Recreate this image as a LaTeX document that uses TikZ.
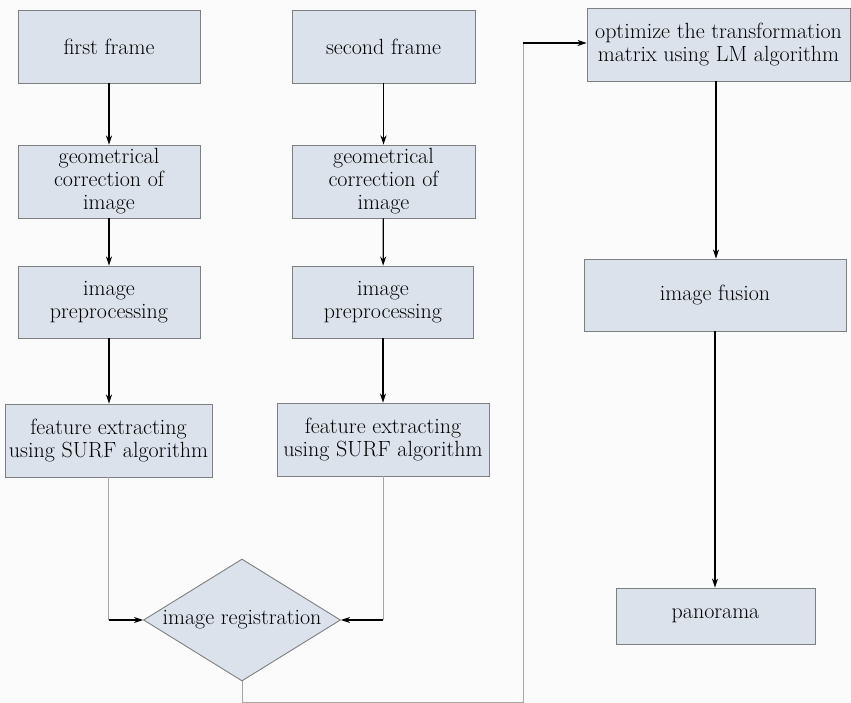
\documentclass[tikz,border=0pt]{standalone}
\usepackage{tikz}
\usetikzlibrary{calc, shapes.geometric, positioning, arrows.meta}
\definecolor{boxfill}{HTML}{DCE2EC}
\definecolor{boxline}{HTML}{7F7F7F}
\definecolor{thinline}{HTML}{A8A4A6}
\tikzset{
    stepbox/.style={draw=boxline, fill=boxfill, line width=0.9pt, align=center,
        inner sep=0pt, font=\fontsize{22}{23}\selectfont},
    decide/.style={diamond, draw=boxline, fill=boxfill, line width=0.9pt,
        shape aspect=1.6, inner sep=0pt, minimum width=197pt, minimum height=122pt,
        font=\fontsize{22}{23}\selectfont},
    flow/.style={->, line width=1.3pt, black},
    thin line/.style={draw=thinline, line width=1pt}
}
\begin{document}
\begin{tikzpicture}[>={Stealth[length=9pt, width=6pt]}, x=1pt, y=-1pt]
    % Nền
    \fill[gray!3] (0,0) rectangle (851,703);
    \useasboundingbox (0,0) rectangle (851,703);
    % Cột thứ nhất
    \node[stepbox, minimum width=182pt, minimum height=73pt] (frame1) at (109,46.5) {first frame};
    \node[stepbox, minimum width=182pt, minimum height=73pt] (geo1) at (109,181.5) {geometrical\\correction of\\image};
    \node[stepbox, minimum width=182pt, minimum height=72pt] (pre1) at (109,302) {image\\preprocessing};
    \node[stepbox, minimum width=207pt, minimum height=73pt] (feat1) at (108.5,440.5) {feature extracting\\using SURF algorithm};
    % Cột thứ hai
    \node[stepbox, minimum width=183pt, minimum height=73pt] (frame2) at (383.5,46.5) {second frame};
    \node[stepbox, minimum width=183pt, minimum height=73pt] (geo2) at (383.5,181.5) {geometrical\\correction of\\image};
    \node[stepbox, minimum width=181pt, minimum height=72pt] (pre2) at (383,302) {image\\preprocessing};
    \node[stepbox, minimum width=212pt, minimum height=73pt] (feat2) at (383,439.5) {feature extracting\\using SURF algorithm};
    % Đăng ký ảnh
    \node[decide] (reg) at (242,620) {image registration};
    % Cột thứ ba
    \node[stepbox, minimum width=263pt, minimum height=73pt] (opt) at (718.5,44.5) {optimize the transformation\\matrix using LM algorithm};
    \node[stepbox, minimum width=262pt, minimum height=72pt] (fusion) at (715,295) {image fusion};
    \node[stepbox, minimum width=199pt, minimum height=56pt] (pano) at (715.5,616) {panorama};

    % Mũi tên
    \draw[flow] (frame1) -- (geo1);
    \draw[flow] (geo1) -- (pre1);
    \draw[flow] (pre1) -- (feat1.north -| pre1);
    \draw[flow] (frame2) -- (geo2);
    \draw[flow] (geo2) -- (pre2);
    \draw[flow] (pre2) -- (feat2.north -| pre2);
    \coordinate (left) at (feat1.south |- reg.west);
    \coordinate (right) at (feat2.south |- reg.east);
    \draw[thin line] (feat1.south) -- (left);
    \draw[thin line] (feat2.south) -- (right);
    \draw[flow] (left) -- (reg.west);
    \draw[flow] (right) -- (reg.east);
    % Đường vòng sang cột thứ ba
    \coordinate (low) at (242,702);
    \coordinate (corner) at (523,702);
    \coordinate (up) at (523,43);
    \draw[thin line] (reg.south) -- (low) -- (corner) -- (up);
    \draw[flow] (up) -- (up -| opt.west);
    \draw[flow] (opt.south -| 716,0) -- (fusion.north -| 716,0);
    \draw[flow] (fusion) -- (fusion |- pano.north);
\end{tikzpicture}
\end{document}
